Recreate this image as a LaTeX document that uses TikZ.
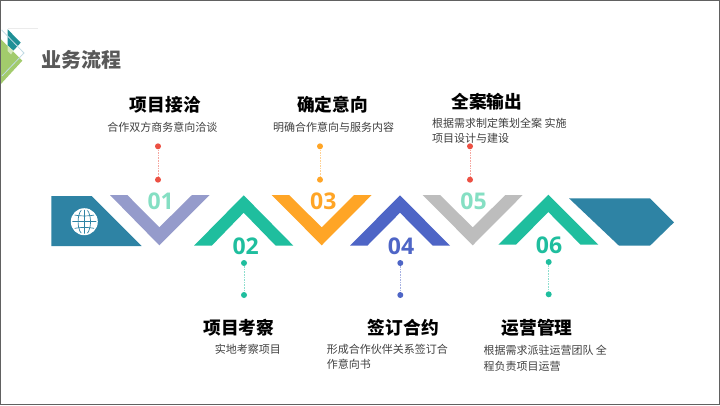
\documentclass[tikz,border=0pt]{standalone}
\usepackage{fontspec}
\setmainfont{Noto Sans CJK SC}
\newfontfamily\numfont{Open Sans}
\definecolor{cBlue}{HTML}{2E83A4}
\definecolor{cLav}{HTML}{959BCB}
\definecolor{cTeal}{HTML}{1FBE9E}
\definecolor{cOrange}{HTML}{FFA526}
\definecolor{cIndigo}{HTML}{4E65C6}
\definecolor{cGrey}{HTML}{BDBDBD}
\definecolor{cMint}{HTML}{85DFC3}
\definecolor{cRed}{HTML}{EC5043}
\definecolor{cGreen}{HTML}{A2CB6C}
\definecolor{cDark}{HTML}{1E9096}
\tikzset{
  x=1pt,y=-1pt,
  headtext/.style={font=\fontsize{17.7}{20}\selectfont\bfseries,text=black,inner sep=0pt,anchor=center},
  desctext/.style={font=\fontsize{11}{15.7}\selectfont,text=black!75,inner sep=0pt},
  numtext/.style={font=\fontsize{23}{24}\selectfont\numfont\bfseries,inner sep=0pt,anchor=center},
  pin/.style={circle,inner sep=0pt,minimum size=6pt},
  stem/.style={dash pattern=on 1.6pt off 1pt,line width=1pt,draw opacity=0.5},
}
\begin{document}
\begin{tikzpicture}
\useasboundingbox (0,0) rectangle (720,405);
\fill[white] (0,0) rectangle (720,405);
% logo
\draw[black!8,line width=0.5pt] (8,28.4) -- (38,28.4);
\fill[cGreen] (0,38.3) -- (22.3,60.7) -- (0,85) -- cycle;
\fill[cDark] (7.7,29.3) -- (20.7,42.7) -- (13.3,50.7) -- (7.7,45.5) -- cycle;
\fill[cGreen!45] (7.7,45.5) -- (13.3,50.7) -- (11,54.5) -- (7.7,51) -- cycle;
\draw[cBlue!30,line width=0.8pt] (1.7,30) -- (24,53) -- (2,76);
% band
\fill[cBlue] (51.3,196) -- (91.7,196) -- (141.7,246) -- (51.3,246) -- cycle;
\fill[cLav] (110,195) -- (127.3,195) -- (159.3,227.3) -- (192,195) -- (209.5,195) -- (159.3,245.3) -- cycle;
\fill[cTeal] (194,245.7) -- (243.7,195.3) -- (293.4,245.7) -- (275.7,245.7) -- (243.7,212.7) -- (211.7,245.7) -- cycle;
\fill[cOrange] (271.7,195) -- (289,195) -- (321.7,227.3) -- (354,195) -- (371.7,195) -- (321.7,245.3) -- cycle;
\fill[cIndigo] (350,245.7) -- (400,195.3) -- (450,245.7) -- (432.7,245.7) -- (400,212.7) -- (367.3,245.7) -- cycle;
\fill[cGrey] (422.7,195) -- (440,195) -- (472.7,227.3) -- (505.4,195) -- (522.7,195) -- (472.7,245.3) -- cycle;
\fill[cTeal] (498.3,244.7) -- (548.3,194.7) -- (598.3,244.7) -- (580.6,244.7) -- (548.3,212) -- (516,244.7) -- cycle;
\fill[cBlue] (569,198.3) -- (650,198.3) -- (674,222.3) -- (650,245.7) -- (619,245.7) -- cycle;
% globe
\fill[white] (84.3,221.7) circle (13.5);
\begin{scope}
\clip (84.3,221.7) circle (12);
\draw[cBlue,line width=0.7pt] (84.3,221.7) ellipse (6.2 and 13.5);
\draw[cBlue,line width=0.7pt] (84.3,208) -- (84.3,235);
\draw[cBlue,line width=0.7pt] (71,221.7) -- (98,221.7);
\draw[cBlue,line width=0.7pt] (71,214) .. controls (78,216.6) and (91,216.6) .. (98,214);
\draw[cBlue,line width=0.7pt] (71,229.4) .. controls (78,226.8) and (91,226.8) .. (98,229.4);
\end{scope}
% numbers
\node[numtext,text=cMint] at (160.7,201.7) {01};
\node[numtext,text=cTeal] at (245.7,246.3) {02};
\node[numtext,text=cOrange] at (323.3,201.3) {03};
\node[numtext,text=cIndigo] at (401,246) {04};
\node[numtext,text=cMint] at (473.5,201.5) {05};
\node[numtext,text=cTeal] at (549,245) {06};
% pins
\node[pin,fill=cRed] (a1) at (158,146.3) {};
\node[pin,fill=cRed] (b1) at (158,179.7) {};
\draw[stem,cRed] (a1) -- (b1);
\node[pin,fill=cOrange] (a3) at (320,146.3) {};
\node[pin,fill=cOrange] (b3) at (320,179.7) {};
\draw[stem,cOrange] (a3) -- (b3);
\node[pin,fill=cRed] (a5) at (470,146.3) {};
\node[pin,fill=cRed] (b5) at (470,179.7) {};
\draw[stem,cRed] (a5) -- (b5);
\node[pin,fill=cTeal] (a2) at (244,263) {};
\node[pin,fill=cTeal] (b2) at (244,295) {};
\draw[stem,cTeal] (a2) -- (b2);
\node[pin,fill=cIndigo] (a4) at (400.3,263) {};
\node[pin,fill=cIndigo] (b4) at (400.3,295) {};
\draw[stem,cIndigo] (a4) -- (b4);
\node[pin,fill=cTeal] (a6) at (548.7,262) {};
\node[pin,fill=cTeal] (b6) at (548.7,294.3) {};
\draw[stem,cTeal] (a6) -- (b6);
% texts
\node[inner sep=0pt,text=black!65,font=\fontsize{20}{22}\selectfont\bfseries] (ttl) at (81.5,60) {业务流程};
\node[headtext] (h1) at (165.3,105) {项目接洽};
\node[desctext] (d1) at (162.3,127.7) {合作双方商务意向洽谈};
\node[headtext] (h3) at (332.5,105) {确定意向};
\node[desctext] (d3) at (333.7,127.7) {明确合作意向与服务内容};
\node[headtext] (h5) at (486.7,101.4) {全案输出};
\node[desctext,anchor=north west,align=left] (d5) at (432,117.5) {根据需求制定策划全案 实施\\项目设计与建设};
\node[headtext] (h2) at (238.7,327.7) {项目考察};
\node[desctext] (d2) at (247.8,349.3) {实地考察项目};
\node[headtext] (h4) at (403.3,327.7) {签订合约};
\node[desctext,anchor=north west,align=left] (d4) at (326.7,343.5) {形成合作伙伴关系签订合\\作意向书};
\node[headtext] (h6) at (537,327.4) {运营管理};
\node[desctext,anchor=north west,align=left] (d6) at (483.3,345.2) {根据需求派驻运营团队 全\\程负责项目运营};
% frame
\draw[black!62,line width=1.6pt] (0.4,0.4) rectangle (719.6,404.6);
\end{tikzpicture}
\end{document}
